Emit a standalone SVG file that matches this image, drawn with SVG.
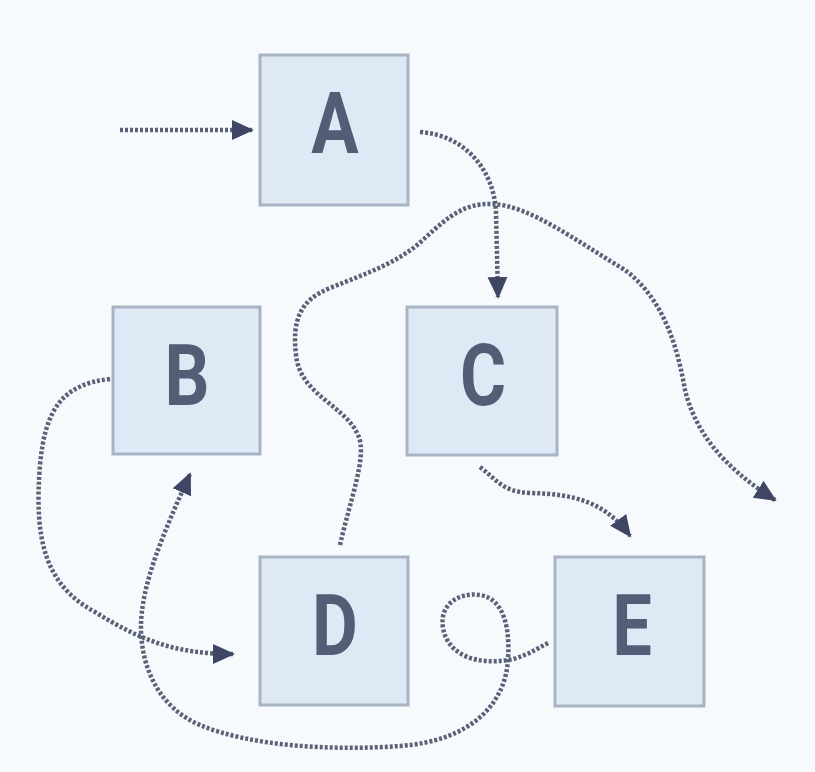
<svg xmlns="http://www.w3.org/2000/svg" width="815" height="772" viewBox="0 0 815 772">
  <style>
    .node rect { fill: #dfe9f6; stroke: #a8b3c4; stroke-width: 3; }
    .node text { font-family: Roboto, "Liberation Sans", sans-serif; font-weight: 700; font-size: 86px; fill: #535d75; text-anchor: middle; }
    .edge { fill: none; stroke: #5a6277; stroke-width: 4.5; stroke-dasharray: 3 2; }
  </style>
  <defs>
    <marker id="arrow" markerUnits="userSpaceOnUse" markerWidth="24" markerHeight="22" refX="20" refY="11" orient="auto">
      <path d="M0,1 L22,11 L0,21 Z" fill="#3e4663"/>
    </marker>
  </defs>
  <rect width="815" height="772" fill="#f6fafd"/>

  <g id="connectors">
    <path class="edge" d="M120,130 L252,130" marker-end="url(#arrow)"/>
    <path class="edge" d="M420,132 C465,135 494,170 496,212 L498,297" marker-end="url(#arrow)"/>
    <path class="edge" d="M340,545 C350,500 368,455 358,435 C345,405 300,395 296,355 C292,320 300,300 330,288 C370,272 400,262 425,238 C450,215 465,203 493,204 C530,206 575,240 625,270 C665,300 678,350 685,390 C695,430 720,465 775,500" marker-end="url(#arrow)"/>
    <path class="edge" d="M480,467 C495,478 502,492 530,493 C575,494 605,502 630,536" marker-end="url(#arrow)"/>
    <path class="edge" d="M110,379 C62,384 45,410 40,465 C34,540 45,585 95,612 C140,640 175,654 233,654" marker-end="url(#arrow)"/>
    <path class="edge" d="M548,643 C535,650 522,658 508,660 C478,665 448,656 443,628 C439,605 458,592 480,595 C505,599 510,630 508,660 C505,705 470,741 400,746 C330,751 250,746 200,725 C160,708 142,670 141,630 C140,585 165,530 190,474" marker-end="url(#arrow)"/>
  </g>

  <!-- letters are set in a narrowed bold face -->
  <g id="node-A" class="node">
    <rect x="260" y="55" width="148" height="150"/>
    <text transform="translate(335 0) scale(0.82 1)" x="0" y="153">A</text>
  </g>
  <g id="node-B" class="node">
    <rect x="113" y="307" width="147" height="147"/>
    <text transform="translate(187 0) scale(0.82 1)" x="0" y="405">B</text>
  </g>
  <g id="node-C" class="node">
    <rect x="407" y="307" width="150" height="148"/>
    <text transform="translate(483 0) scale(0.82 1)" x="0" y="405">C</text>
  </g>
  <g id="node-D" class="node">
    <rect x="260" y="557" width="148" height="148"/>
    <text transform="translate(335 0) scale(0.82 1)" x="0" y="655">D</text>
  </g>
  <g id="node-E" class="node">
    <rect x="555" y="557" width="149" height="149"/>
    <text transform="translate(632 0) scale(0.82 1)" x="0" y="655">E</text>
  </g>
</svg>
